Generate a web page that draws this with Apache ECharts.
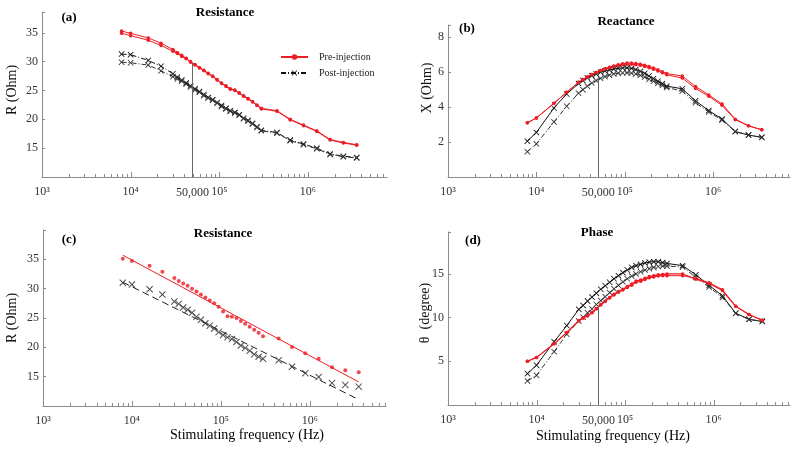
<!DOCTYPE html>
<html>
<head>
<meta charset="utf-8">
<title>Impedance</title>
<script src="https://cdn.jsdelivr.net/npm/echarts@6/dist/echarts.min.js"></script>
<style>
html, body { margin: 0; padding: 0; background: #fff; }
#chart { width: 800px; height: 450px; }
</style>
</head>
<body>
<div id="chart"></div>
<script>
// stimulating frequency (Hz), same sweep for every panel
var freq = [7900, 10000, 15800, 22000, 30000, 33600, 37700, 42300, 47400, 53200, 59700, 67000, 75000, 84200, 94500, 106000,
	119000, 133000, 150000, 168000, 188000, 211000, 237000, 266000, 298000, 447000, 631000, 891000, 1260000, 1780000, 2510000, 3550000];

// (a) resistance, R (Ohm)
var resPre1 = [35.3, 34.9, 34.1, 33.2, 32.1, 31.6, 31.1, 30.6, 30.0, 29.5, 29.0, 28.5, 28.0, 27.5, 26.9, 26.3,
	25.8, 25.3, 25.1, 24.6, 24.1, 23.6, 23.1, 22.5, 21.9, 21.5, 20.0, 19.0, 18.0, 16.5, 16.0, 15.6];
var resPre2 = [34.9, 34.5, 33.7, 32.8, 31.8, 31.4, 30.9, 30.5, 29.9, 29.4, 28.9, 28.4, 27.9, 27.4, 26.8, 26.2,
	25.7, 25.2, 25.0, 24.5, 24.0, 23.5, 23.0, 22.4, 21.8, 21.4, 19.9, 18.9, 17.9, 16.4, 15.9, 15.5];
var resPost1 = [31.3, 31.2, 30.2, 29.2, 27.9, 27.3, 26.8, 26.3, 25.8, 25.3, 24.8, 24.3, 23.8, 23.4, 22.9, 22.4,
	21.9, 21.5, 21.2, 20.8, 20.2, 19.8, 19.3, 18.7, 18.1, 17.7, 16.4, 15.7, 15.0, 14.0, 13.6, 13.4];
var resPost2 = [29.9, 29.8, 29.4, 28.4, 27.4, 27.0, 26.6, 26.1, 25.6, 25.1, 24.7, 24.1, 23.7, 23.3, 22.8, 22.2,
	21.8, 21.4, 21.1, 20.7, 20.1, 19.7, 19.2, 18.6, 18.0, 17.6, 16.3, 15.6, 14.9, 13.9, 13.5, 13.3];

// (b) reactance, X (Ohm)
var reaPre1 = [3.1, 3.38, 4.22, 4.85, 5.42, 5.58, 5.73, 5.86, 5.98, 6.09, 6.19, 6.28, 6.36, 6.43, 6.48, 6.52,
	6.53, 6.5, 6.46, 6.4, 6.33, 6.24, 6.14, 6.03, 5.92, 5.78, 5.18, 4.7, 4.18, 3.31, 2.93, 2.7];
var reaPre2 = [3.1, 3.38, 4.22, 4.85, 5.42, 5.58, 5.73, 5.86, 5.98, 6.09, 6.18, 6.26, 6.33, 6.39, 6.43, 6.46,
	6.46, 6.43, 6.39, 6.33, 6.26, 6.17, 6.07, 5.96, 5.85, 5.66, 5.07, 4.62, 4.1, 3.28, 2.93, 2.7];
var reaPost1 = [2.05, 2.55, 3.95, 4.75, 5.35, 5.52, 5.67, 5.8, 5.9, 6.0, 6.07, 6.13, 6.18, 6.22, 6.24, 6.25,
	6.22, 6.15, 6.05, 5.93, 5.78, 5.63, 5.48, 5.34, 5.2, 5.05, 4.36, 3.8, 3.32, 2.6, 2.4, 2.27];
var reaPost2 = [1.45, 1.9, 3.15, 4.05, 4.8, 5.0, 5.2, 5.38, 5.52, 5.65, 5.75, 5.83, 5.9, 5.94, 5.96, 5.97,
	5.95, 5.9, 5.82, 5.72, 5.6, 5.48, 5.36, 5.25, 5.12, 4.92, 4.25, 3.72, 3.25, 2.6, 2.4, 2.27];

// (c) resistance points and fitted lines
var resMeanPre = [35.1, 34.7, 33.9, 32.9, 31.8, 31.3, 30.9, 30.5, 30.0, 29.5, 29.0, 28.5, 28.0, 27.5, 26.9, 26.1,
	25.3, 25.2, 25.0, 24.5, 24.0, 23.5, 23.0, 22.5, 21.9, 21.5, 20.05, 19.0, 18.05, 16.6, 16.1, 15.75];
var resMeanPost = [31.0, 30.7, 29.9, 29.0, 27.8, 27.4, 26.8, 26.4, 25.9, 25.2, 24.7, 24.1, 23.7, 23.2, 22.6, 22.1,
	21.7, 21.4, 20.9, 20.3, 19.9, 19.4, 18.8, 18.4, 18.05, 17.8, 16.7, 15.6, 14.95, 13.9, 13.6, 13.3];
var fitFreq = [7900, 3550000];
var fitPre = [35.7, 14.1];
var fitPost = [31.1, 11.1];

// (d) phase, degree
var phPre1 = [5.0, 5.45, 7.0, 8.3, 9.65, 9.96, 10.23, 10.6, 11.05, 11.5, 11.9, 12.3, 12.67, 13.0, 13.26, 13.57,
	13.84, 14.2, 14.3, 14.5, 14.7, 14.8, 14.9, 14.95, 15.0, 15.0, 14.4, 13.9, 13.1, 11.3, 10.35, 9.7];
var phPre2 = [5.0, 5.45, 7.0, 8.3, 9.65, 9.96, 10.2, 10.55, 11.0, 11.45, 11.85, 12.25, 12.6, 12.9, 13.15, 13.45,
	13.7, 14.05, 14.15, 14.35, 14.55, 14.65, 14.75, 14.8, 14.8, 14.8, 14.5, 14.0, 13.2, 11.3, 10.35, 9.7];
var phPost1 = [3.6, 4.55, 7.25, 9.1, 10.95, 11.4, 11.9, 12.35, 12.8, 13.25, 13.65, 14.05, 14.45, 14.8, 15.15, 15.45,
	15.75, 15.95, 16.1, 16.25, 16.35, 16.4, 16.4, 16.3, 16.2, 15.95, 14.9, 13.7, 12.5, 10.5, 9.8, 9.55];
var phPost2 = [2.75, 3.4, 6.1, 8.1, 9.6, 10.05, 10.55, 11.0, 11.5, 11.95, 12.4, 12.85, 13.3, 13.7, 14.1, 14.45,
	14.75, 15.0, 15.25, 15.45, 15.6, 15.75, 15.85, 15.9, 15.9, 15.8, 14.6, 13.5, 12.3, 10.5, 9.8, 9.6];

// x ticks (log axis, decades plus 2..9 minor)
var xTicks = [1000, 2000, 3000, 4000, 5000, 6000, 7000, 8000, 9000,
	10000, 20000, 30000, 40000, 50000, 60000, 70000, 80000, 90000,
	100000, 200000, 300000, 400000, 500000, 600000, 700000, 800000, 900000,
	1000000, 2000000, 3000000, 4000000, 5000000, 6000000, 7000000];
var decadeLabels = { 3: '10\u00b3', 4: '10\u2074', 5: '10\u2075', 6: '10\u2076' };
var guideFreq = 50000;
var guideLabel = '50,000';
// y tick labels shown for each panel
var yLabelsA = [15, 20, 25, 30, 35];
var yLabelsB = [2, 4, 6, 8];
var yLabelsC = [15, 20, 25, 30, 35];
var yLabelsD = [5, 10, 15];

var FONT = '"Liberation Serif", "Times New Roman", serif';
var RED = '#ee1c24';
var BLACK = '#111';
var AXIS = '#8c8c8c';
var CROSS = 'path://M0,1L1,0L5,4L9,0L10,1L6,5L10,9L9,10L5,6L1,10L0,9L4,5Z';

// panels: grid box and axis ranges
var panels = [
	{ left: 42, top: 12, width: 345, height: 165, yMin: 10, yMax: 38.6, step: 5, xMax: 7.8e6, labels: yLabelsA },
	{ left: 448, top: 25, width: 342, height: 152, yMin: 0, yMax: 8.7, step: 2, xMax: 7.4e6, labels: yLabelsB },
	{ left: 43, top: 230, width: 343, height: 176, yMin: 10, yMax: 40, step: 5, xMax: 7.2e6, labels: yLabelsC },
	{ left: 448, top: 232, width: 342, height: 173, yMin: 0, yMax: 19.8, step: 5, xMax: 7.3e6, labels: yLabelsD }
];

function pairs(xs, ys) {
	return xs.map(function (x, i) { return [x, ys[i]] });
}

function lineSeries(name, idx, ys, color, dash, symbol, size, width) {
	return {
		name: name,
		type: 'line',
		xAxisIndex: idx,
		yAxisIndex: idx,
		data: pairs(freq, ys),
		symbol: symbol,
		symbolSize: size,
		showSymbol: true,
		itemStyle: { color: color },
		lineStyle: { color: color, width: width, type: dash },
		emphasis: { disabled: true },
		z: color === RED ? 4 : 3
	};
}

function guideLine(idx, top) {
	return {
		type: 'line',
		xAxisIndex: idx,
		yAxisIndex: idx,
		data: [],
		markLine: {
			silent: true,
			symbol: 'none',
			animation: false,
			lineStyle: { color: '#666', width: 1, type: 'solid' },
			label: { show: true, position: 'start', formatter: guideLabel, distance: 10,
				color: '#333', fontFamily: FONT, fontSize: 12 },
			data: [[{ coord: [guideFreq, panels[idx].yMin] }, { coord: [guideFreq, top] }]]
		}
	};
}

// minor/major ticks drawn inward on the log x axis
function tickSeries(idx) {
	return {
		type: 'custom',
		xAxisIndex: idx,
		yAxisIndex: idx,
		silent: true,
		clip: false,
		data: xTicks.filter(function (v) { return v <= panels[idx].xMax }).map(function (v) { return [v, panels[idx].yMin] }),
		renderItem: function (params, api) {
			var v = api.value(0);
			var p = api.coord([v, api.value(1)]);
			var e = Math.log10(v);
			var len = Math.abs(e - Math.round(e)) < 1e-9 ? 5 : 3;
			var x = Math.round(p[0]) + 0.5;
			return { type: 'line', shape: { x1: x, y1: p[1], x2: x, y2: p[1] - len }, style: { stroke: AXIS, lineWidth: 1 } };
		}
	};
}

var grids = [], xAxes = [], yAxes = [];
panels.forEach(function (p, i) {
	grids.push({ left: p.left, top: p.top, width: p.width, height: p.height, containLabel: false });
	xAxes.push({
		type: 'log', logBase: 10, gridIndex: i, min: 1000, max: p.xMax,
		axisLine: { lineStyle: { color: AXIS, width: 1 } },
		axisTick: { show: false },
		splitLine: { show: false },
		axisLabel: {
			margin: 9, color: '#333', fontFamily: FONT, fontSize: 12, showMaxLabel: false,
			formatter: function (v) {
				var e = Math.round(Math.log10(v));
				return Math.abs(v - Math.pow(10, e)) < 1e-6 * v && decadeLabels[e] ? decadeLabels[e] : '';
			}
		}
	});
	yAxes.push({
		type: 'value', gridIndex: i, min: p.yMin, max: p.yMax, interval: p.step,
		axisLine: { show: true, lineStyle: { color: AXIS, width: 1 } },
		axisTick: { show: true, inside: true, length: 3, lineStyle: { color: AXIS } },
		splitLine: { show: false },
		axisLabel: {
			margin: 4, color: '#333', fontFamily: FONT, fontSize: 12,
			formatter: function (v) { return p.labels.indexOf(v) >= 0 ? String(v) : '' }
		}
	});
});

var dashDot = [5, 2, 1, 2];
var series = [
	// (a)
	lineSeries('Post-injection', 0, resPost1, BLACK, dashDot, CROSS, 6, 1),
	lineSeries('Post-injection', 0, resPost2, '#333', dashDot, CROSS, 6, 1),
	lineSeries('Pre-injection', 0, resPre1, RED, 'solid', 'circle', 3.5, 1),
	lineSeries('Pre-injection', 0, resPre2, RED, 'solid', 'circle', 3.5, 1),
	guideLine(0, 29.8),
	tickSeries(0),
	// (b)
	lineSeries('Post-injection', 1, reaPost1, BLACK, 'solid', CROSS, 6, 1),
	lineSeries('Post-injection', 1, reaPost2, '#333', dashDot, CROSS, 6, 1),
	lineSeries('Pre-injection', 1, reaPre1, RED, 'solid', 'circle', 3.5, 1),
	lineSeries('Pre-injection', 1, reaPre2, RED, 'solid', 'circle', 3.5, 1),
	guideLine(1, 5.75),
	tickSeries(1),
	// (c)
	{ name: 'Pre-injection', type: 'scatter', xAxisIndex: 2, yAxisIndex: 2, data: pairs(freq, resMeanPre),
		symbol: 'circle', symbolSize: 4, itemStyle: { color: RED }, z: 4 },
	{ name: 'Post-injection', type: 'scatter', xAxisIndex: 2, yAxisIndex: 2, data: pairs(freq, resMeanPost),
		symbol: CROSS, symbolSize: 7, itemStyle: { color: '#222' }, z: 3 },
	{ type: 'line', xAxisIndex: 2, yAxisIndex: 2, data: pairs(fitFreq, fitPre), symbol: 'none',
		lineStyle: { color: RED, width: 1 }, z: 2 },
	{ type: 'line', xAxisIndex: 2, yAxisIndex: 2, data: pairs(fitFreq, fitPost), symbol: 'none',
		lineStyle: { color: '#222', width: 1, type: [7, 4] }, z: 2 },
	tickSeries(2),
	// (d)
	lineSeries('Post-injection', 3, phPost1, BLACK, 'solid', CROSS, 6, 1),
	lineSeries('Post-injection', 3, phPost2, '#333', dashDot, CROSS, 6, 1),
	lineSeries('Pre-injection', 3, phPre1, RED, 'solid', 'circle', 3.5, 1.2),
	lineSeries('Pre-injection', 3, phPre2, RED, 'solid', 'circle', 3.5, 1),
	guideLine(3, 11.4),
	tickSeries(3)
];

function heading(text, x, y, size, bold) {
	return {
		text: text, left: x, top: y, padding: 0, textAlign: 'center', textVerticalAlign: 'middle',
		textStyle: { fontFamily: FONT, fontSize: size, fontWeight: bold ? 'bold' : 'normal', color: '#000' }
	};
}

function yName(text, x, y) {
	return {
		type: 'text', x: x, y: y, rotation: Math.PI / 2, silent: true,
		style: { text: text, fontFamily: FONT, fontSize: 14, fill: '#111', align: 'center', verticalAlign: 'middle' }
	};
}

var chart = echarts.init(document.getElementById('chart'));
chart.setOption({
	animation: false,
	backgroundColor: '#fff',
	title: [
		heading('Resistance', 225, 13, 13, true),
		heading('Reactance', 626, 22, 13, true),
		heading('Resistance', 223, 234, 13, true),
		heading('Phase', 597, 233, 13, true),
		heading('(a)', 69, 18, 13, true),
		heading('(b)', 467, 29, 13, true),
		heading('(c)', 69, 240, 13, true),
		heading('(d)', 473, 241, 13, true),
		heading('Stimulating frequency (Hz)', 247, 435, 14, false),
		heading('Stimulating frequency (Hz)', 613, 436, 14, false)
	],
	legend: {
		data: ['Pre-injection', 'Post-injection'],
		orient: 'vertical',
		left: 280, top: 52, padding: 0,
		itemWidth: 27, itemHeight: 7, itemGap: 6,
		selectedMode: false,
		textStyle: { fontFamily: FONT, fontSize: 10, color: '#222', padding: [0, 0, 0, 6] }
	},
	graphic: [
		yName('R (Ohm)', 12, 90),
		yName('X (Ohm)', 427, 88),
		yName('R (Ohm)', 12, 318),
		yName('\u03b8  (degree)', 425, 313)
	],
	grid: grids,
	xAxis: xAxes,
	yAxis: yAxes,
	series: series
});
</script>
</body>
</html>
